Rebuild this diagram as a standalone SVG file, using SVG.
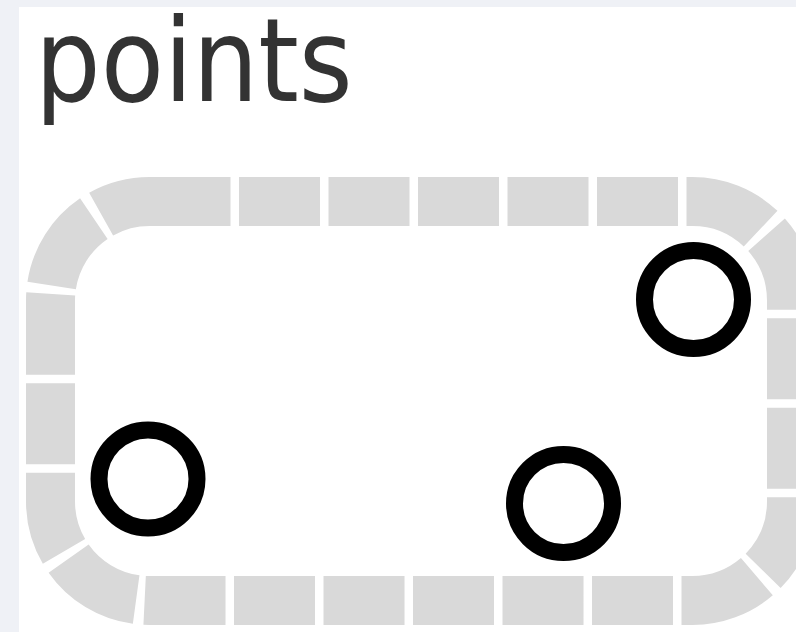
<svg xmlns="http://www.w3.org/2000/svg" width="796" height="632" viewBox="0 0 796 632">
  <style>
    .title { font-family: "DejaVu Sans Condensed", "DejaVu Sans", sans-serif; font-stretch: condensed; font-size: 115px; fill: #333333; }
    .track { fill: none; stroke: #d9d9d9; stroke-width: 49; stroke-dasharray: 81 8.5; }
    .pt { fill: #ffffff; stroke: #000000; stroke-width: 17; }
  </style>
  <rect x="0" y="0" width="796" height="632" fill="#eff1f6"/>
  <rect x="19" y="7" width="800" height="640" fill="#ffffff"/>
  <g id="title">
    <text class="title" x="35" y="101">points</text>
  </g>
  <g id="track">
    <rect class="track" x="50.5" y="201.5" width="741" height="399" rx="99" ry="99"/>
  </g>
  <g id="point-1">
    <circle class="pt" cx="693.5" cy="299.5" r="49"/>
  </g>
  <g id="point-2">
    <circle class="pt" cx="148" cy="479" r="49"/>
  </g>
  <g id="point-3">
    <circle class="pt" cx="563.5" cy="503.5" r="49"/>
  </g>
</svg>
